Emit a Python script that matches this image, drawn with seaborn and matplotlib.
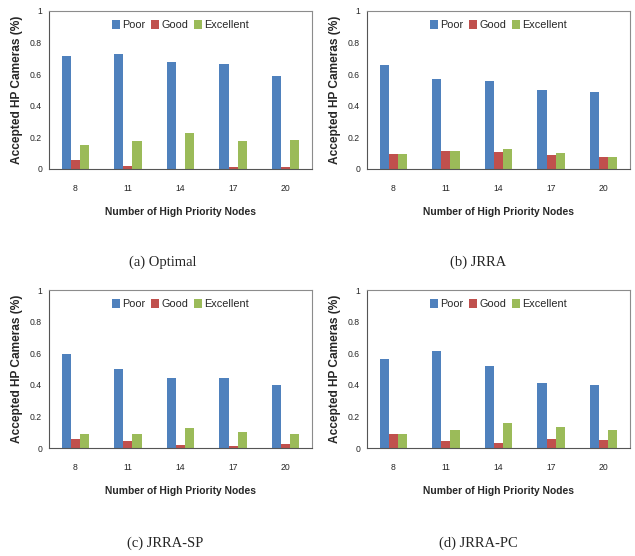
import numpy as np
import pandas as pd
import matplotlib
matplotlib.use("Agg")
import matplotlib.pyplot as plt
import seaborn as sns

# values
nodes = ["8", "11", "14", "17", "20"]
levels = ["Poor", "Good", "Excellent"]

optimal_poor = [0.717, 0.729, 0.679, 0.662, 0.586]
optimal_good = [0.057, 0.021, 0.0, 0.013, 0.011]
optimal_exc = [0.152, 0.178, 0.226, 0.178, 0.184]

jrra_poor = [0.657, 0.568, 0.556, 0.501, 0.488]
jrra_good = [0.093, 0.114, 0.107, 0.088, 0.074]
jrra_exc = [0.093, 0.114, 0.126, 0.103, 0.074]

sp_poor = [0.593, 0.498, 0.445, 0.441, 0.399]
sp_good = [0.059, 0.042, 0.017, 0.013, 0.023]
sp_exc = [0.091, 0.089, 0.124, 0.101, 0.086]

pc_poor = [0.561, 0.612, 0.517, 0.409, 0.399]
pc_good = [0.091, 0.042, 0.034, 0.055, 0.049]
pc_exc = [0.091, 0.112, 0.158, 0.131, 0.112]

captions = ["(a) Optimal", "(b) JRRA", "(c) JRRA-SP", "(d) JRRA-PC"]
colors = {"Poor": "#4F81BD", "Good": "#C0504D", "Excellent": "#9BBB59"}

panels = [
    (optimal_poor, optimal_good, optimal_exc),
    (jrra_poor, jrra_good, jrra_exc),
    (sp_poor, sp_good, sp_exc),
    (pc_poor, pc_good, pc_exc),
]

sns.set_style("white")
plt.rcParams['font.family'] = ['Liberation Sans', 'DejaVu Sans']

W, H = 635, 556
fig = plt.figure(figsize=(W / 100, H / 100), dpi=100)

# axes boxes in pixels: left, top, right, bottom
boxes = [(49, 11, 312, 169), (367, 11, 630, 169),
         (49, 290, 312, 448), (367, 290, 630, 448)]
cap_pos = [(163, 262), (478, 262), (165, 543), (478, 543)]

for i, (vals, box) in enumerate(zip(panels, boxes)):
    l, t, r, b = box
    ax = fig.add_axes([l / W, 1 - b / H, (r - l) / W, (b - t) / H])
    df = pd.DataFrame({
        "nodes": nodes * 3,
        "level": [lv for lv in levels for _ in nodes],
        "value": list(vals[0]) + list(vals[1]) + list(vals[2]),
    })
    sns.barplot(data=df, x="nodes", y="value", hue="level", order=nodes,
                hue_order=levels, palette=colors, width=0.52, ax=ax,
                saturation=1, errorbar=None, linewidth=0)
    ax.set_ylim(0, 1)
    ax.set_xlim(-0.5, 4.5)
    ax.set_yticks([0, 0.2, 0.4, 0.6, 0.8, 1])
    ax.set_yticklabels(["0", "0.2", "0.4", "0.6", "0.8", "1"])
    ax.tick_params(axis="both", labelsize=6.2, length=0, pad=5)
    ax.tick_params(axis="x", pad=11)
    for s in ax.spines.values():
        s.set_color("#8c8c8c")
        s.set_linewidth(0.8)
    ax.spines["left"].set_color("#555555")
    ax.spines["bottom"].set_color("#555555")
    ax.set_xlabel("Number of High Priority Nodes", fontsize=7.4,
                  fontweight="bold", labelpad=10)
    ax.set_ylabel("Accepted HP Cameras (%)", fontsize=8.6, fontweight="bold",
                  labelpad=5)
    handles, labels = ax.get_legend_handles_labels()
    ax.legend(handles, labels, loc="upper center", bbox_to_anchor=(0.5, 0.985),
              ncol=3, frameon=False, fontsize=7.8, handlelength=0.75,
              handleheight=0.95, handletextpad=0.2, columnspacing=0.5,
              borderaxespad=0.2)
    cx, cy = cap_pos[i]
    fig.text(cx / W, 1 - cy / H, captions[i], ha="center", va="center",
             fontsize=10.5, family=["Liberation Serif", "DejaVu Serif"])

fig.savefig("out.png", dpi=100)
